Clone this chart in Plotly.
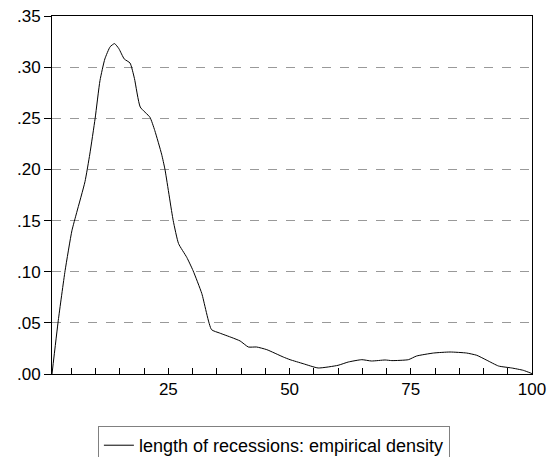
import plotly.graph_objects as go

# Empirical density of recession length
length_x = [1, 2.3, 3.7, 5.1, 6.1, 7.8, 8.8, 9.9, 10.9, 11.9, 13.0, 13.9, 14.8, 15.9,
            17.1, 18.0, 19.2, 21.2, 22.2, 23.6, 24.3, 26.0, 27.1, 28.8, 30.1, 31.9,
            33.9, 35.6, 38.1, 39.8, 41.5, 43.2, 45.3, 48.7, 50.1, 52.8, 55.9, 60.0,
            62.1, 64.9, 66.9, 69.7, 71.1, 74.5, 76.2, 79.7, 83.1, 86.5, 88.6, 90.7,
            93.1, 95.8, 98.2, 100]
density = [0.000, 0.0525, 0.101, 0.140, 0.158, 0.188, 0.215, 0.250, 0.287, 0.308,
           0.320, 0.323, 0.318, 0.308, 0.304, 0.289, 0.261, 0.251, 0.238, 0.215,
           0.200, 0.150, 0.1275, 0.114, 0.101, 0.0786, 0.0434, 0.040, 0.0356,
           0.0323, 0.0264, 0.0264, 0.0238, 0.0166, 0.014, 0.0101, 0.0059, 0.0085,
           0.0117, 0.014, 0.0127, 0.0137, 0.0131, 0.014, 0.0176, 0.0205, 0.0215,
           0.0205, 0.0183, 0.0134, 0.0078, 0.0059, 0.0036, 0.0004]

y_tickvals = [0, 0.05, 0.10, 0.15, 0.20, 0.25, 0.30, 0.35]
y_ticktext = [".00", ".05", ".10", ".15", ".20", ".25", ".30", ".35"]
x_tickvals = [25, 50, 75, 100]
series_name = "length of recessions: empirical density"

fig = go.Figure()
fig.add_trace(go.Scatter(
    x=length_x, y=density, mode="lines", name=series_name,
    line=dict(color="black", width=1, shape="spline", smoothing=0.5),
    hoverinfo="skip",
))

fig.update_layout(
    width=550, height=457,
    margin=dict(l=52, r=18, t=16, b=83),
    paper_bgcolor="white", plot_bgcolor="white",
    font=dict(family="Liberation Sans, Arial, sans-serif", size=17, color="black"),
    showlegend=True,
    hovermode=False,
    legend=dict(
        orientation="h", xref="container", yref="container",
        x=0.178, xanchor="left", y=0.0678, yanchor="top",
        bordercolor="#808080", borderwidth=1, bgcolor="white",
        font=dict(size=18),
    ),
    xaxis=dict(
        range=[1, 100], tickvals=x_tickvals, ticks="inside", ticklen=6,
        tickcolor="black", showgrid=False, zeroline=False, automargin=False,
        ticklabeloverflow="allow",
        showline=True, linecolor="black", linewidth=1, mirror=True,
        minor=dict(dtick=5, tick0=0, ticks="inside", ticklen=6, tickcolor="black", showgrid=False),
    ),
    yaxis=dict(
        range=[0, 0.35], tickvals=y_tickvals, ticktext=y_ticktext,
        ticks="outside", ticklen=7, tickcolor="black", automargin=False,
        ticklabeloverflow="allow",
        showgrid=True, gridcolor="#999999", griddash="dash", gridwidth=1,
        zeroline=False, showline=True, linecolor="black", linewidth=1, mirror=True,
    ),
)

fig.write_html("out.html", config={"displayModeBar": False},
               post_script="document.body.style.margin='0';")
